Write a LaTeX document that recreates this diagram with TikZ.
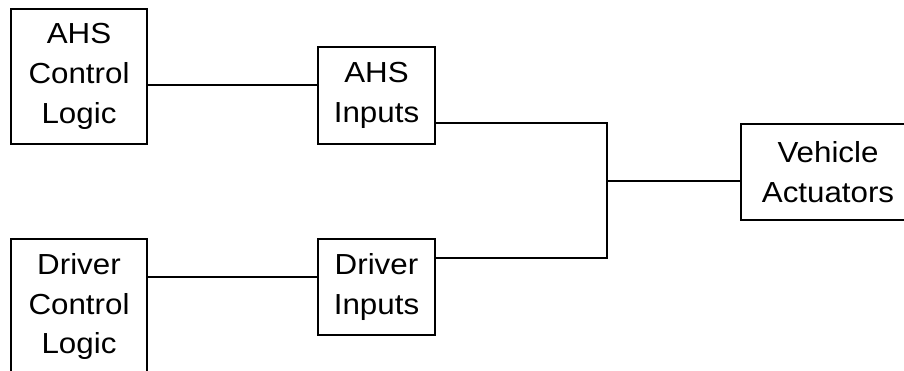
\documentclass[tikz,border=0pt]{standalone}
\usepackage{fontspec}
\setmainfont[FakeStretch=1.08]{Liberation Sans}
\begin{document}
\begin{tikzpicture}[x=1pt,y=-1pt,
  box/.style={draw, line width=1.8pt, inner sep=0pt, align=center,
    font=\fontsize{29}{39.7}\selectfont},
  wire/.style={line width=1.8pt}]
\useasboundingbox (0,0) rectangle (904,371);
\clip (0,0) rectangle (904,371);
\node[box, minimum width=136pt, minimum height=135pt] (acl) at (79,76.5) {AHS\\Control\\Logic};
\node[box, minimum width=136pt, minimum height=135pt] (dcl) at (79,306.5) {Driver\\Control\\Logic};
\node[box, minimum width=117pt, minimum height=97pt] (ahsin) at (376.5,95.5) {AHS\\Inputs};
\node[box, minimum width=117pt, minimum height=96pt] (drvin) at (376.5,287) {Driver\\Inputs};
\node[box, minimum width=174pt, minimum height=96pt] (va) at (828,172) {Vehicle\\Actuators};
\coordinate (c1) at (0,85);
\coordinate (c2) at (0,277);
\coordinate (jt) at (607,123);
\coordinate (jb) at (607,258);
\coordinate (jm) at (607,181);
\draw[wire] (acl.east |- c1) -- (ahsin.west |- c1);
\draw[wire] (dcl.east |- c2) -- (drvin.west |- c2);
\draw[wire] (ahsin.east |- jt) -- (jt) -- (jb) -- (drvin.east |- jb);
\draw[wire] (jm) -- (jm -| va.west);
\end{tikzpicture}
\end{document}
